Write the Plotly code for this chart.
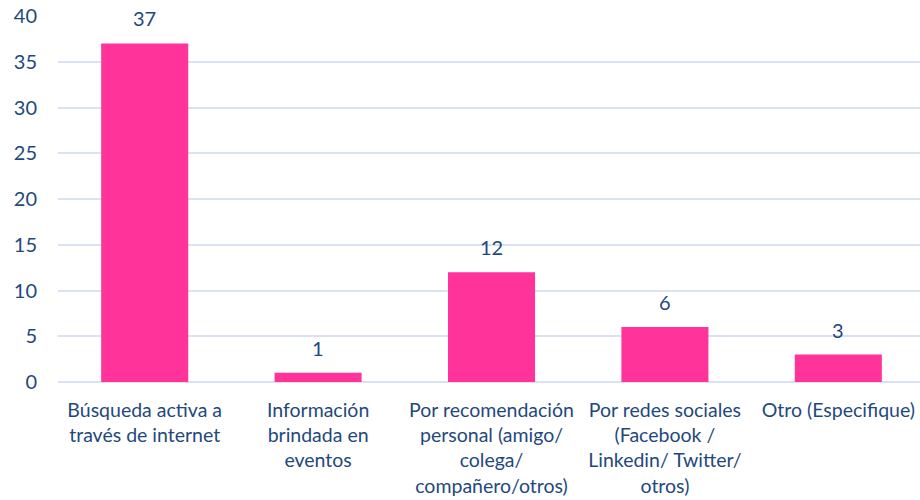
import plotly.graph_objects as go

# Survey: how respondents found out about the program
categories = [
    "Búsqueda activa a<br>través de internet",
    "Información<br>brindada en<br>eventos",
    "Por recomendación<br>personal (amigo/<br>colega/<br>compañero/otros)",
    "Por redes sociales<br>(Facebook /<br>Linkedin/ Twitter/<br>otros)",
    "Otro (Especifique)",
]
counts = [37, 1, 12, 6, 3]
y_ticks = [0, 5, 10, 15, 20, 25, 30, 35, 40]

BAR = "#FF3399"
TEXT = "#1F497D"
GRID = "#D9E2F3"
FONT = "Lato, 'Open Sans', sans-serif"

fig = go.Figure(
    go.Bar(
        x=categories,
        y=counts,
        marker=dict(color=BAR, line=dict(width=0)),
        hoverinfo="skip",
    )
)

# value labels above each bar
for c, v in zip(categories, counts):
    fig.add_annotation(
        x=c, y=v, text=str(v), showarrow=False,
        yanchor="bottom", yshift=11,
        font=dict(family=FONT, size=20, color=TEXT),
    )

fig.update_layout(
    width=920, height=500,
    margin=dict(l=58, r=0, t=16, b=118),
    paper_bgcolor="white", plot_bgcolor="white",
    bargap=0.498,
    showlegend=False,
    font=dict(family=FONT, color=TEXT),
)
fig.update_xaxes(
    range=[-0.5, 4.471],
    showgrid=False, showline=False, zeroline=False,
    tickfont=dict(family=FONT, size=19.5, color=TEXT),
    ticks="", ticklabelstandoff=14,
)
fig.update_yaxes(
    range=[0, 40], tickvals=y_ticks,
    showgrid=True, gridcolor=GRID, gridwidth=1.5,
    zeroline=True, zerolinecolor=GRID, zerolinewidth=1.5,
    showline=False, ticks="",
    tickfont=dict(family=FONT, size=20, color=TEXT),
    ticklabelstandoff=20,
)

fig.write_html("out.html")
